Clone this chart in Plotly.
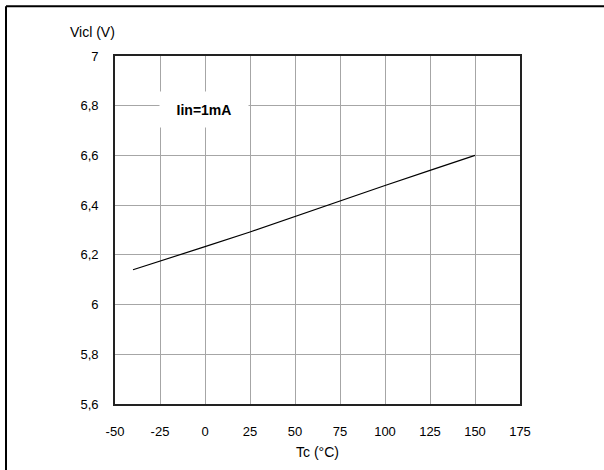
import plotly.graph_objects as go

# Data
tc = [-40, -25, 0, 25, 50, 75, 100, 125, 150]
vicl = [6.14, 6.176, 6.233, 6.292, 6.355, 6.417, 6.479, 6.54, 6.6]

x_ticks = [-50, -25, 0, 25, 50, 75, 100, 125, 150, 175]
x_ticktext = ["-50", "-25", "0", "25", "50", "75", "100", "125", "150", "175"]
y_ticks = [5.6, 5.8, 6.0, 6.2, 6.4, 6.6, 6.8, 7.0]
y_ticktext = ["5,6", "5,8", "6", "6,2", "6,4", "6,6", "6,8", "7"]

FONT = "Liberation Sans, Arial, sans-serif"

fig = go.Figure()
fig.add_trace(go.Scatter(x=tc, y=vicl, mode="lines",
                         line=dict(color="black", width=1.2),
                         showlegend=False, hoverinfo="skip"))

L, R, T, B = 115, 84, 56, 64
W, H = 604, 470
pw, ph = W - L - R, H - T - B

fig.update_layout(
    width=W, height=H,
    margin=dict(l=L, r=R, t=T, b=B),
    paper_bgcolor="white", plot_bgcolor="white",
    font=dict(family=FONT, size=13, color="black"),
    xaxis=dict(range=[-50, 175], tickvals=x_ticks, ticktext=x_ticktext,
               showgrid=True, gridcolor="#a6a6a6", gridwidth=1,
               showline=True, linecolor="#222222", linewidth=1.8, mirror=True,
               ticks="", ticklabelstandoff=14, zeroline=False,
               title=dict(text="Tc (°C)", font=dict(size=14), standoff=10)),
    yaxis=dict(range=[5.6, 7.0], tickvals=y_ticks, ticktext=y_ticktext,
               showgrid=True, gridcolor="#a6a6a6", gridwidth=1,
               showline=True, linecolor="#222222", linewidth=1.8, mirror=True,
               ticks="", ticklabelstandoff=12, zeroline=False),
    annotations=[
        dict(text="Vicl (V)", xref="paper", yref="paper",
             x=(92 - L) / pw, y=1 + (T - 32) / ph, showarrow=False,
             font=dict(size=14), xanchor="center", yanchor="middle"),
        dict(text="<b>Iin=1mA</b>", xref="x", yref="y", x=-0.8, y=6.786,
             showarrow=False, bgcolor="white", width=86, height=33,
             font=dict(size=14), xanchor="center", yanchor="middle"),
    ],
    shapes=[
        dict(type="line", xref="paper", yref="paper",
             x0=(6 - L) / pw, y0=1 + (T - 6) / ph,
             x1=1 + (R + 10) / pw, y1=1 + (T - 6) / ph,
             line=dict(color="black", width=2)),
        dict(type="line", xref="paper", yref="paper",
             x0=(6 - L) / pw, y0=1 + (T - 6) / ph,
             x1=(6 - L) / pw, y1=-(B + 10) / ph,
             line=dict(color="black", width=2)),
    ],
)

fig.write_html("out.html", config={"displayModeBar": False},
               post_script="document.body.style.margin='0px';document.body.style.overflow='hidden';")
